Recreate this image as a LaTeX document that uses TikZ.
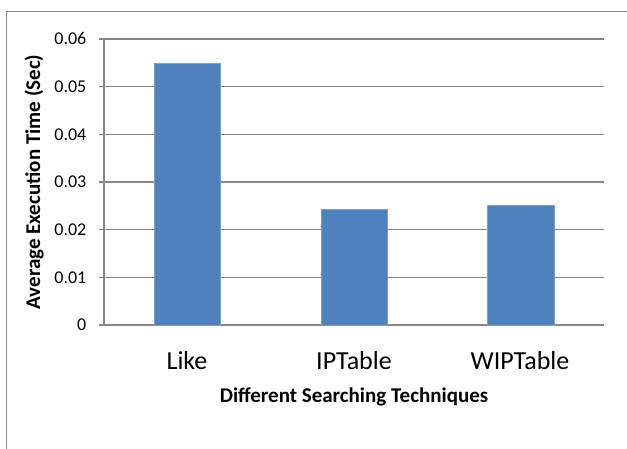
\documentclass[tikz,border=0pt]{standalone}
\usepackage{fontspec}
\setmainfont{Carlito}
\definecolor{barblue}{HTML}{4F81BD}
\definecolor{gridgray}{HTML}{878787}

\begin{document}
\begin{tikzpicture}[x=1pt,y=-1pt,
    grid/.style = {draw=gridgray, line width=1.3pt},
    bar/.style = {fill=barblue, draw=barblue!75!white, line width=0.7pt},
    ticklabel/.style = {left, inner sep=0pt, font=\fontsize{18}{18}\selectfont},
    catlabel/.style = {font=\fontsize{26}{26}\selectfont},
    axistitle/.style = {font=\fontsize{21}{21}\selectfont\bfseries}]
    \useasboundingbox (0,0) rectangle (627,449);
    % chart frame
    \draw[gridgray, line width=1pt] (6,449) -- (6,12) -- (627,12);
    % gridlines and tick labels
    \foreach \v/\t in {0/0, 1/0.01, 2/0.02, 3/0.03, 4/0.04, 5/0.05, 6/0.06} {
        \draw[grid] (99,325-47.67*\v) -- (604,325-47.67*\v);
        \node[ticklabel] (tick\v) at (86.5,325-47.67*\v) {\t};
    }
    \draw[grid] (104,39) -- (104,325);
    % bars
    \draw[bar] (154,325) rectangle (220,63);
    \draw[bar] (321,325) rectangle (387,209);
    \draw[bar] (487,325) rectangle (554,205);
    % category labels
    \node[catlabel] (like) at (187,361) {Like};
    \node[catlabel] (iptable) at (354,361) {IPTable};
    \node[catlabel] (wiptable) at (520,361) {WIPTable};
    % axis titles
    \node[axistitle] (xtitle) at (354,397) {Different Searching Techniques};
    \node[axistitle, rotate=90] (ytitle) at (34,182) {Average Execution Time (Sec)};
\end{tikzpicture}
\end{document}
